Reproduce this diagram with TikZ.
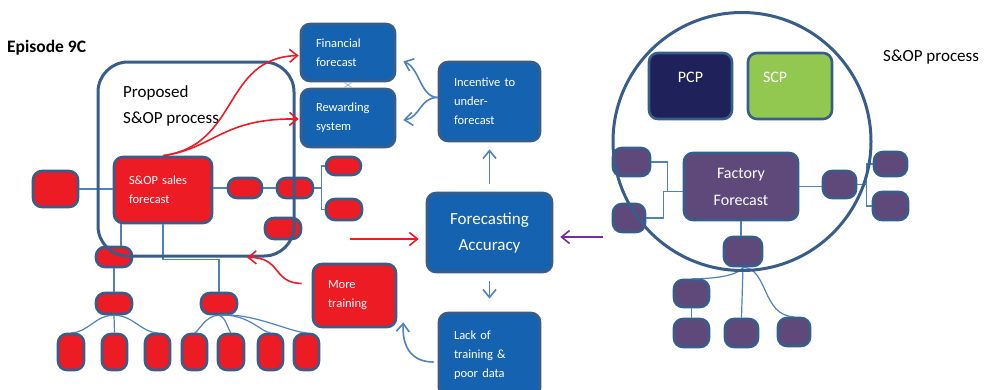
\documentclass[tikz,border=0pt]{standalone}
\usepackage{fontspec}
\setmainfont{Carlito}
\usetikzlibrary{arrows.meta}

\begin{document}
\begin{tikzpicture}[x=1pt, y=-1pt, every node/.style={font=\fontsize{12.5}{19}\selectfont}]
	% Define colors
	\definecolor{box_blue}{RGB}{21, 99, 176}
	\definecolor{edge_blue}{RGB}{56, 93, 138}
	\definecolor{link_blue}{RGB}{79, 129, 189}
	\definecolor{sop_red}{RGB}{237, 28, 36}
	\definecolor{factory_purple}{RGB}{94, 73, 122}
	\definecolor{pcp_navy}{RGB}{31, 34, 90}
	\definecolor{scp_green}{RGB}{146, 200, 80}
	\definecolor{arrow_purple}{RGB}{112, 48, 160}

	% Styles
	\tikzstyle{base_box} = [draw=edge_blue, line width=2.6pt, rounded corners=9pt, text=white, inner sep=0pt]
	\tikzstyle{info_box} = [base_box, fill=box_blue, align=left, inner xsep=15pt]
	\tikzstyle{red_box} = [base_box, fill=sop_red]
	\tikzstyle{purple_box} = [base_box, fill=factory_purple]
	\tikzstyle{frame_line} = [draw=edge_blue, line width=3pt]
	\tikzstyle{link} = [draw=link_blue, line width=1.2pt]
	\tikzstyle{red_arrow} = [draw=sop_red, line width=1.6pt, -{Straight Barb[length=8pt,width=13pt]}]
	\tikzstyle{blue_arrow} = [draw=link_blue, line width=1.6pt, -{Straight Barb[length=8pt,width=13pt]}]
	\tikzstyle{purple_arrow} = [draw=arrow_purple, line width=1.6pt, -{Straight Barb[length=8pt,width=13pt]}]
	\tikzstyle{plain_text} = [text=black, font=\fontsize{17}{26}\selectfont, align=left, inner sep=0pt]

	\useasboundingbox (0,0) rectangle (986,389);

	% Headings
	\node[plain_text, font=\fontsize{17.5}{20}\selectfont\bfseries, anchor=west] (episode) at (7,48) {Episode 9C};
	\node[plain_text, anchor=west] (right_title) at (883,57) {S\&OP process};

	% Central column
	\node[info_box, minimum height=57pt, text width=64pt] (fin) at (348,52.5) {Financial\\forecast};
	\node[info_box, minimum height=58pt, text width=64pt] (rew) at (348,118) {Rewarding\\system};
	\node[info_box, minimum height=79pt, text width=71pt] (incent) at (489.5,101.5) {Incentive to\\under-\\forecast};
	\node[base_box, fill=box_blue, minimum width=125pt, minimum height=79pt, align=center, font=\fontsize{17}{26}\selectfont] (accuracy) at (489.5,232.5) {Forecasting\\Accuracy};
	\node[info_box, minimum height=84pt, text width=71pt] (lack) at (489.5,355) {Lack of\\training \&\\poor data\\[-8pt]};
	\node[info_box, fill=sop_red, minimum height=63pt, text width=53pt] (more) at (354.5,295.5) {More\\training};

	% Proposed S&OP process (left)
	\node[info_box, fill=sop_red, minimum height=66pt, text width=68pt] (sop) at (163,190) {S\&OP sales\\forecast};
	\node[red_box, minimum width=45pt, minimum height=36pt] (r_left) at (55.5,189) {};
	\node[red_box, minimum width=34pt, minimum height=20pt] (r_a) at (245,188) {};
	\node[red_box, minimum width=36pt, minimum height=20pt] (r_b) at (295,188) {};
	\node[red_box, minimum width=35pt, minimum height=18pt] (r_c) at (343.5,166) {};
	\node[red_box, minimum width=36pt, minimum height=21pt] (r_d) at (344,209.5) {};
	\node[red_box, minimum width=36pt, minimum height=21pt] (r_e) at (283,228.5) {};
	\node[red_box, minimum width=36pt, minimum height=20pt] (r_f) at (114,257) {};
	\node[red_box, minimum width=36pt, minimum height=21pt] (l2a) at (114,303.5) {};
	\node[red_box, minimum width=36pt, minimum height=21pt] (l2b) at (219,303.5) {};
	\node[red_box, minimum width=26pt, minimum height=36pt] (b1) at (71,352) {};
	\node[red_box, minimum width=25pt, minimum height=36pt] (b2) at (114.5,352) {};
	\node[red_box, minimum width=25pt, minimum height=36pt] (b3) at (157.5,352) {};
	\node[red_box, minimum width=25pt, minimum height=36pt] (b4) at (194.5,352) {};
	\node[red_box, minimum width=26pt, minimum height=36pt] (b5) at (231,352) {};
	\node[red_box, minimum width=25pt, minimum height=36pt] (b6) at (270.5,352) {};
	\node[red_box, minimum width=25pt, minimum height=36pt] (b7) at (306.5,352) {};

	% Links inside the proposed process
	\draw[link] (r_left.east) -- (r_left.east -| sop.west);
	\draw[link] (r_a.west -| sop.east) -- (r_a.west);
	\draw[link] (r_a.east) -- (r_b.west);
	\draw[link] (r_b.east) -- ++(7,0) |- (r_c.west);
	\draw[link] (r_b.east) -- ++(7,0) |- (r_d.west);
	\draw[link] ([xshift=-42pt]sop.south) -- ([xshift=-42pt]sop.south |- r_f.north);
	\draw[link] (sop.south) -- ++(0,35) -| (l2b.north);
	\draw[link] (r_f.south) -- (l2a.north);
	\draw[link] (l2a.south) .. controls (95,315) and (88,333) .. (b1.north);
	\draw[link] (l2a.south) -- (b2.north);
	\draw[link] (l2a.south) .. controls (133,315) and (142,333) .. (b3.north);
	\draw[link] (l2b.south) .. controls (205,315) and (198,333) .. (b4.north);
	\draw[link] (l2b.south) .. controls (226,317) and (228,330) .. (b5.north);
	\draw[link] (l2b.south) .. controls (248,313) and (262,333) .. (b6.north);
	\draw[link] (l2b.south) .. controls (252,312) and (292,333) .. (b7.north);
	\draw[link, line width=0.8pt, link_blue!55] ([xshift=-4pt]fin.south) -- ([xshift=4pt]rew.north);
	\draw[link, line width=0.8pt, link_blue!55] ([xshift=4pt]fin.south) -- ([xshift=-4pt]rew.north);

	% Frame of the proposed process
	\node[frame_line, rounded corners=30pt, minimum width=196pt, minimum height=194pt, inner sep=0pt] (proposed) at (196,159) {};
	\node[plain_text, anchor=west] (proposed_text) at (123,106) {Proposed\\S\&OP process};

	% Factory side (right)
	\node[base_box, fill=pcp_navy, minimum width=83pt, minimum height=66pt, text depth=18pt, font=\fontsize{16}{19}\selectfont] (pcp) at (690.5,86) {PCP};
	\node[base_box, fill=scp_green, minimum height=66pt, inner xsep=15pt, text width=54pt, text depth=18pt, align=left, font=\fontsize{16}{19}\selectfont] (scp) at (790,86) {SCP};
	\node[base_box, fill=factory_purple, minimum width=114pt, minimum height=67pt, align=center, font=\fontsize{16}{27}\selectfont] (ff) at (741,186.5) {Factory\\Forecast};
	\node[purple_box, minimum width=37pt, minimum height=28pt] (p_lt) at (631.5,162) {};
	\node[purple_box, minimum width=32pt, minimum height=28pt] (p_lb) at (629,218) {};
	\node[purple_box, minimum width=33pt, minimum height=27pt] (p_r) at (839.5,184.5) {};
	\node[purple_box, minimum width=33pt, minimum height=24pt] (p_rt) at (890.5,164) {};
	\node[purple_box, minimum width=35pt, minimum height=28pt] (p_rb) at (890.5,206) {};
	\node[purple_box, minimum width=38pt, minimum height=29pt] (p_below) at (743,251.5) {};
	\node[purple_box, minimum width=35pt, minimum height=27pt] (p_l3) at (691.5,293.5) {};
	\node[purple_box, minimum width=35pt, minimum height=28pt] (p_b1) at (691.5,333) {};
	\node[purple_box, minimum width=33pt, minimum height=28pt] (p_b2) at (741.5,333) {};
	\node[purple_box, minimum width=32pt, minimum height=28pt] (p_b3) at (794,332) {};

	% Links of the factory side
	\draw[link] (p_lt.east) -- ++(16,0) |- ([yshift=-5pt]ff.west);
	\draw[link] (p_lb.east) -- ++(17,0) |- ([yshift=-5pt]ff.west);
	\draw[link] (ff.east) -- (ff.east -| p_r.west);
	\draw[link] (p_r.east) -- ++(9,0) |- (p_rt.west);
	\draw[link] (p_r.east) -- ++(9,0) |- (p_rb.west);
	\draw[link] (ff.south) -- (ff.south |- p_below.north);
	\draw[link] (p_below.south) .. controls (738,276) and (712,279) .. (p_l3.north);
	\draw[link] (p_below.south) -- (p_b2.north);
	\draw[link] (p_below.south) .. controls (768,268) and (762,316) .. (p_b3.north);
	\draw[link] (p_l3.south) -- (p_b1.north);

	% S&OP process circle
	\node[frame_line, circle, minimum size=258pt, inner sep=0pt] (sop_circle) at (742,141.5) {};

	% Arrows
	\coordinate (red_in) at (350,239);
	\coordinate (purple_in) at (603,237);
	\draw[red_arrow] (red_in) -- ([xshift=-7pt]red_in -| accuracy.west);
	\draw[purple_arrow] (purple_in) -- ([xshift=7pt]purple_in -| accuracy.east);
	\draw[blue_arrow] ([yshift=8pt]accuracy.north) -- ([yshift=-7pt]incent.south);
	\draw[blue_arrow] ([yshift=-8pt]accuracy.south) -- ([yshift=13pt]lack.north);
	\draw[blue_arrow] ([yshift=4pt]incent.west) .. controls (420,97) and (420,68) .. ([xshift=7pt,yshift=-9pt]fin.east);
	\draw[blue_arrow] ([yshift=4pt]incent.west) .. controls (420,97) and (420,118) .. ([xshift=7pt,yshift=-2pt]rew.east);
	\draw[blue_arrow] ([xshift=-4pt,yshift=-7pt]lack.west) .. controls (410,362) and (402,345) .. ([xshift=6pt,yshift=6pt]more.south east);
	\draw[red_arrow] (sop.north) .. controls (240,145) and (222,58) .. ([xshift=-1pt,yshift=-3pt]fin.west);
	\draw[red_arrow] (sop.north) .. controls (215,148) and (222,118) .. ([xshift=-1pt,yshift=-1pt]rew.west);
	\draw[red_arrow] ([xshift=-10pt,yshift=12pt]more.west) .. controls (272,283) and (282,257) .. ([xshift=51pt]proposed.south);

\end{tikzpicture}
\end{document}
